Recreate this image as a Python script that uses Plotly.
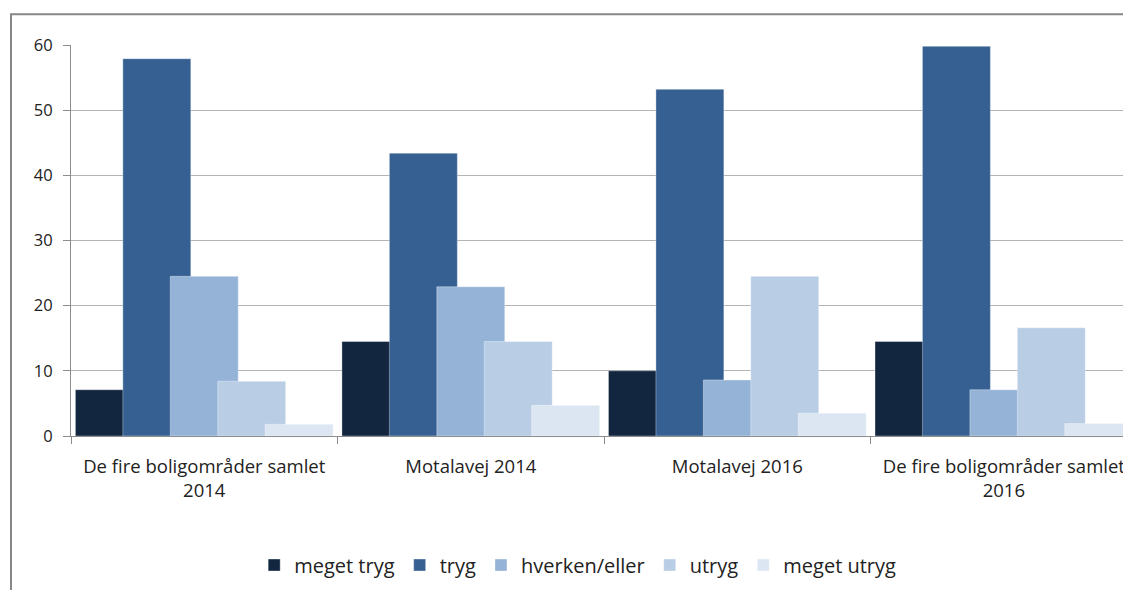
import plotly.graph_objects as go

categories = ["De fire boligområder samlet<br>2014", "Motalavej 2014", "Motalavej 2016", "De fire boligområder samlet<br>2016"]
series_names = ["meget tryg", "tryg", "hverken/eller", "utryg", "meget utryg"]
meget_tryg = [7.1, 14.5, 10.0, 14.5]
tryg = [57.9, 43.4, 53.2, 59.8]
hverken_eller = [24.5, 22.9, 8.6, 7.1]
utryg = [8.4, 14.5, 24.5, 16.6]
meget_utryg = [1.8, 4.7, 3.5, 1.9]
y_ticks = [0, 10, 20, 30, 40, 50, 60]

series_values = [meget_tryg, tryg, hverken_eller, utryg, meget_utryg]
colors = ["#12263f", "#366092", "#95b3d7", "#b9cde5", "#dce6f2"]

FONT = "Open Sans, sans-serif"

fig = go.Figure()
bw = 0.255
step = 0.178
for k, (name, vals, col) in enumerate(zip(series_names, series_values, colors)):
    fig.add_trace(go.Bar(
        name=name, x=categories, y=vals,
        marker=dict(color=col, line=dict(color="rgba(255,255,255,0.35)", width=1)),
        width=bw, offset=(k - 2) * step - bw / 2,
    ))

fig.update_layout(
    width=1123, height=582,
    barmode="overlay",
    paper_bgcolor="white", plot_bgcolor="white",
    margin=dict(l=63, r=0, t=37, b=154, autoexpand=False),
    font=dict(family=FONT, size=18, color="#222222"),
    showlegend=True,
    legend=dict(orientation="h", x=0.478, xanchor="center", y=-0.33, yanchor="middle",
                font=dict(family=FONT, size=20, color="#222222"), traceorder="normal"),
    xaxis=dict(range=[-0.5, 3.477], showline=True, linecolor="#8c8c8c", linewidth=1,
               ticks="outside", tickson="boundaries", ticklen=7, tickcolor="#8c8c8c",
               showgrid=False, ticklabelstandoff=14, fixedrange=True, automargin=False,
               tickfont=dict(size=18.5)),
    yaxis=dict(range=[0, 60], tickvals=y_ticks, showline=True, linecolor="#8c8c8c", linewidth=1,
               ticks="outside", ticklen=7, tickcolor="#8c8c8c",
               showgrid=True, gridcolor="#b3b3b3", gridwidth=1, zeroline=False,
               ticklabelstandoff=7, automargin=False, tickfont=dict(size=16.5)),
    shapes=[dict(type="rect", xref="paper", yref="paper",
                 x0=(3 - 63) / 1060, x1=1.05, y0=-0.6, y1=(428 - 6) / 391.3,
                 line=dict(color="#878787", width=2), fillcolor="rgba(0,0,0,0)", layer="below")],
)

fig.write_html("out.html")
